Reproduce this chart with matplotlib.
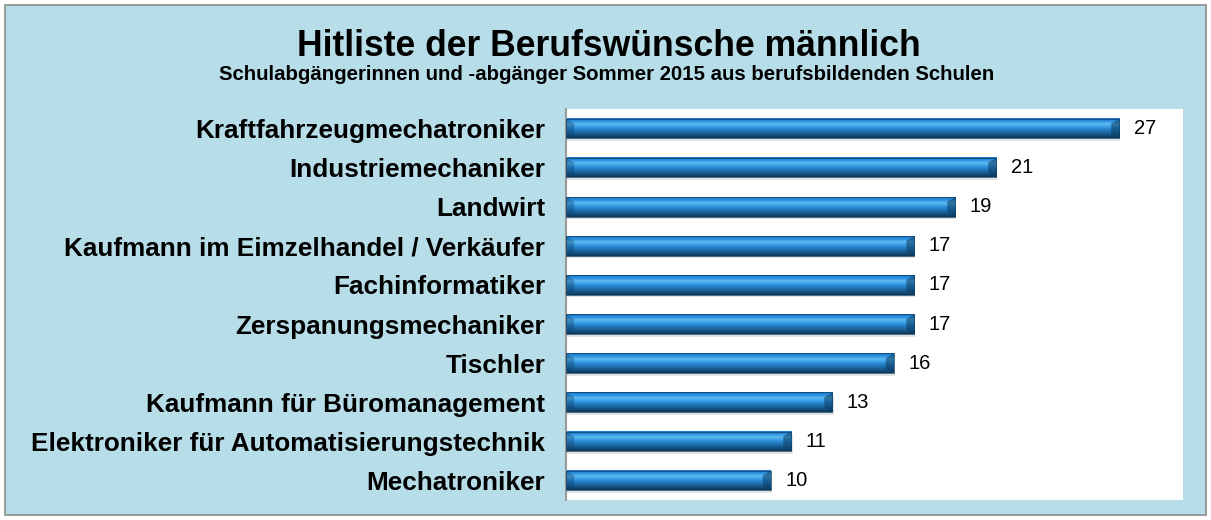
import matplotlib.pyplot as plt
import numpy as np
from matplotlib.colors import LinearSegmentedColormap
from matplotlib.patches import Rectangle, Polygon

plt.rcParams['font.family'] = ['Liberation Sans', 'DejaVu Sans']

# data
berufe = ["Kraftfahrzeugmechatroniker", "Industriemechaniker", "Landwirt",
          "Kaufmann im Eimzelhandel / Verkäufer", "Fachinformatiker",
          "Zerspanungsmechaniker", "Tischler", "Kaufmann für Büromanagement",
          "Elektroniker für Automatisierungstechnik", "Mechatroniker"]
anzahl = [27, 21, 19, 17, 17, 17, 16, 13, 11, 10]

title = "Hitliste der Berufswünsche männlich"
subtitle = "Schulabgängerinnen und -abgänger Sommer 2015 aus berufsbildenden Schulen"

W, H = 1211, 520
fig = plt.figure(figsize=(W / 100, H / 100), dpi=100, facecolor="white")

# outer light-blue frame, behind the axes
fig.patches.append(Rectangle((5 / W, 5 / H), 1 - 10 / W, 1 - 10 / H,
                             transform=fig.transFigure, facecolor="#b7dde8",
                             edgecolor="#8c8c8c", linewidth=1.2, zorder=-10))

ax = fig.add_axes([566 / W, 20 / H, (1183 - 566) / W, 391 / H])
ax.set_facecolor("white")

# gradient for cylinder-like bars (bottom -> top)
grad = LinearSegmentedColormap.from_list(
    "bar", ["#0c3658", "#14507f", "#1d6aa8", "#2580c8", "#3aa0e6",
            "#5cbaf2", "#2d8fdc", "#1a78cc"])
g = np.linspace(0, 1, 64).reshape(-1, 1)

n = len(berufe)
h = 0.5
ys = np.arange(n)[::-1]
for y, v in zip(ys, anzahl):
    # soft shadow below the bar
    ax.barh(y - 0.07, v, height=h, color="#a0a0a0", alpha=0.3, left=0.05, zorder=1)
    ax.imshow(g, cmap=grad, origin="lower", aspect="auto",
              extent=(0, v, y - h / 2, y + h / 2), zorder=2)
    # bevelled ends
    ax.add_patch(Polygon([(v, y - h / 2), (v, y + h / 2), (v - 0.4, y + h / 2 - 0.12),
                          (v - 0.4, y - h / 2 + 0.1)],
                         facecolor="#0d3c60", alpha=0.55, edgecolor="none", zorder=3))
    ax.add_patch(Polygon([(0, y - h / 2), (0, y + h / 2), (0.4, y + h / 2 - 0.12),
                          (0.4, y - h / 2 + 0.1)],
                         facecolor="#0d3c60", alpha=0.35, edgecolor="none", zorder=3))
    ax.barh(y, v, height=h, color="none", edgecolor="#0d3c60", linewidth=0.5, zorder=4)
    ax.text(v + 0.7, y, str(v), ha="left", va="center", fontsize=14.5, color="black")

ax.set_xlim(0, 30.1)
ax.set_ylim(-0.5, n - 0.5)
ax.set_yticks(ys)
ax.set_yticklabels(berufe, fontsize=18.8, fontweight="bold")
ax.tick_params(axis="y", length=0, pad=15)
ax.set_xticks([])
for s in ["top", "right", "bottom"]:
    ax.spines[s].set_visible(False)
ax.spines["left"].set_color("#9a9a9a")
ax.spines["left"].set_linewidth(1.5)

fig.text(609 / W, 1 - 46 / H, title, ha="center", va="center",
         fontsize=25.6, fontweight="bold")
fig.text(607 / W, 1 - 75 / H, subtitle, ha="center", va="center",
         fontsize=14.7, fontweight="bold")

plt.savefig("out.png", dpi=100)
